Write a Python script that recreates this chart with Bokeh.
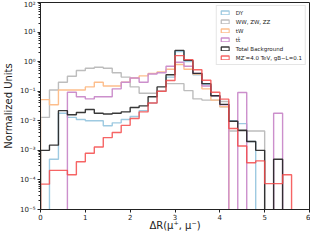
import numpy as np
from bokeh.plotting import figure
from bokeh.models import FixedTicker, Legend, LegendItem
from bokeh.embed import file_html
from bokeh.resources import INLINE

# bin edges of the Delta R histogram
bin_edges = [0.0, 0.2, 0.4, 0.6, 0.8, 1.0, 1.2, 1.4, 1.6, 1.8, 2.0, 2.2, 2.4, 2.6, 2.8,
             3.0, 3.2, 3.4, 3.6, 3.8, 4.0, 4.2, 4.4, 4.6, 4.8, 5.0, 5.2, 5.4, 5.6, 5.8, 6.0]

dy = [0, 5e-4, 0.018, 0.013, 0.011, 0.010, 0.010, 0.0068, 0.0085, 0.011,
      0.014, 0.022, 0.04, 0.10, 0.30, 2.2, 1.0, 0.36, 0.17, 0.07,
      0.03, 0.010, 0.008, 0.002, 0, 0, 0, 0, 0, 0]
diboson = [0.013, 0.11, 0.2, 0.32, 0.5, 0.6, 0.65, 0.6, 0.42, 0.3,
           0.14, 0.085, 0.085, 0.1, 0.18, 0.18, 0.105, 0.055, 0.05, 0.05,
           0.045, 0.0045, 0.0045, 0.0045, 0.0045, 0, 0, 0, 0, 0]
tw = [0.052, 0.035, 0.11, 0.11, 0.11, 0.14, 0.2, 0.15, 0.15, 0.2,
      0.28, 0.33, 0.4, 0.45, 0.55, 0.8, 0.55, 0.38, 0.12, 0.05,
      0.03, 0, 0, 0, 0, 0, 0, 0, 0, 0]
ttbar = [0, 0, 0, 0.092, 0.065, 0.055, 0.065, 0.065, 0.12, 0.2,
         0.28, 0.2, 0.38, 0.42, 0.7, 0.95, 0.7, 0.4, 0.15, 0.07,
         0.035, 0, 0.09, 0, 0, 0, 0.018, 0, 0, 0]
total = [0.001, 0.0015, 0.022, 0.016, 0.019, 0.024, 0.018, 0.017, 0.018, 0.02,
         0.028, 0.032, 0.065, 0.14, 0.36, 2.4, 1.1, 0.4, 0.18, 0.07,
         0.036, 0.0096, 0.0048, 0.002, 0.001, 0, 0.0005, 0, 0, 0]
signal = [7.2e-5, 2.1e-4, 2.1e-4, 1.5e-4, 4.1e-4, 8e-4, 1.3e-3, 2.7e-3, 4e-3, 7e-3,
          0.012, 0.02, 0.04, 0.1, 0.23, 1.6, 1.17, 0.53, 0.235, 0.092,
          0.054, 0.0055, 0.0014, 3.8e-4, 4.4e-4, 7.5e-5, 7.5e-5, 1.5e-4, 0, 0]

labels = ["DY", "WW, ZW, ZZ", "tW", "tt\u0304", "Total Background",
          "MZ\u2032=4.0 TeV, gB\u2212L=0.1"]
colors = ["#9ecae1", "#bdbdbd", "#fdbe8c", "#cc8fcc", "#222222", "#f44a4a"]
alphas = [1.0, 1.0, 1.0, 1.0, 0.9, 0.85]
series = [dy, diboson, tw, ttbar, total, signal]

y_ticks = [1e-5, 1e-4, 1e-3, 1e-2, 1e-1, 1e0, 1e1, 1e2]
y_tick_labels = ["10\u207b\u2075", "10\u207b\u2074", "10\u207b\u00b3", "10\u207b\u00b2",
                 "10\u207b\u00b9", "10\u2070", "10\u00b9", "10\u00b2"]
x_ticks = [0, 1, 2, 3, 4, 5, 6]

p = figure(width=310, height=233, x_range=(0, 6), y_range=(1e-5, 1e2),
           y_axis_type="log", output_backend="svg", toolbar_location=None,
           min_border_left=34, min_border_right=1, min_border_top=2, min_border_bottom=0)
p.grid.visible = False
p.outline_line_color = "#222222"
p.outline_line_width = 1
p.background_fill_color = "white"
p.border_fill_color = "white"

edges = np.array(bin_edges)
floor = 1e-12


def step_xy(vals):
    v = np.array(vals, dtype=float)
    v = np.where(v > 0, v, floor)
    xs = np.repeat(edges, 2)
    ys = np.concatenate([[floor], np.repeat(v, 2), [floor]])
    return xs, ys


items = []
for vals, col, a, lab in zip(series, colors, alphas, labels):
    xs, ys = step_xy(vals)
    p.line(xs, ys, line_color=col, line_width=1.4, line_alpha=a)
    # legend proxy: an unfilled box lying far below the visible range
    box = p.quad(left=[edges[0]], right=[edges[1]], top=[floor], bottom=[floor / 10],
                 fill_color=None, line_color=col, line_width=1.3, line_alpha=a)
    items.append(LegendItem(label=lab, renderers=[box]))

legend = Legend(items=items, location="top_right")
legend.label_text_font = "DejaVu Sans"
legend.label_text_font_size = "5.5px"
legend.label_text_color = "#222222"
legend.label_height = 7
legend.glyph_height = 5
legend.glyph_width = 10
legend.spacing = 2
legend.padding = 3
legend.margin = 3
legend.label_standoff = 6
legend.border_line_color = "#cccccc"
legend.border_line_width = 1
legend.background_fill_alpha = 0.85
p.add_layout(legend)

p.yaxis.ticker = FixedTicker(
    ticks=y_ticks,
    minor_ticks=[m * t for t in y_ticks[:-1] for m in range(2, 10)])
p.yaxis.major_label_overrides = {t: s for t, s in zip(y_ticks, y_tick_labels)}
p.xaxis.ticker = FixedTicker(ticks=x_ticks)

for ax in (p.xaxis[0], p.yaxis[0]):
    ax.axis_line_color = "#222222"
    ax.major_tick_line_color = "#222222"
    ax.minor_tick_line_color = "#222222"
    ax.major_tick_out = 3
    ax.major_tick_in = 0
    ax.minor_tick_out = 2
    ax.minor_tick_in = 0
    ax.major_label_text_font = "DejaVu Sans"
    ax.major_label_text_font_size = "7px"
    ax.major_label_text_color = "#222222"
    ax.major_label_standoff = 2
    ax.major_label_text_line_height = 1.0
    ax.axis_label_text_font = "DejaVu Sans"
    ax.axis_label_text_font_size = "10px"
    ax.axis_label_text_font_style = "normal"
    ax.axis_label_text_color = "#222222"
    ax.axis_label_text_line_height = 1.0

p.yaxis.axis_label_standoff = 3
p.xaxis.axis_label_standoff = -3
p.xaxis.major_label_standoff = 1
p.xaxis.minor_tick_line_color = None
p.yaxis.axis_label = "Normalized Units"
p.xaxis.axis_label = "\u0394R(\u03bc\u207a, \u03bc\u207b)"

open("out.html", "w").write(file_html(p, INLINE))
